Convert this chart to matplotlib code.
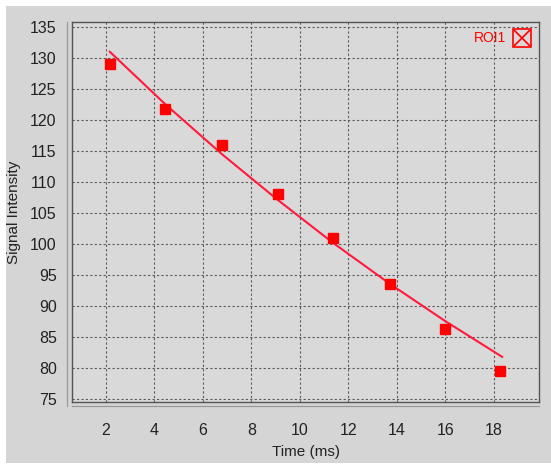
import matplotlib.pyplot as plt
from matplotlib.patches import Rectangle
from matplotlib.lines import Line2D

# measured signal (ROI1)
time_ms = [2.16, 4.43, 6.78, 9.09, 11.36, 13.70, 15.98, 18.25]
signal = [129.0, 121.8, 116.0, 108.1, 101.0, 93.5, 86.3, 79.5]

# fitted decay curve
fit_time = [2.16, 4.43, 6.78, 9.09, 11.36, 13.70, 15.98, 18.34]
fit_signal = [131.0, 122.6, 114.5, 107.1, 100.2, 93.6, 87.6, 81.8]

x_ticks = [2, 4, 6, 8, 10, 12, 14, 16, 18]
y_ticks = [75, 80, 85, 90, 95, 100, 105, 110, 115, 120, 125, 130, 135]

plt.rcParams['font.family'] = ['Liberation Sans', 'DejaVu Sans']

W, H = 551, 466
fig = plt.figure(figsize=(W / 100, H / 100), dpi=100, facecolor='white')
# grey panel like the Swing window
fig.patches.append(Rectangle((6 / W, 3 / H), 1 - 6 / W, 1 - 9 / H,
                             transform=fig.transFigure, facecolor='#d5d5d5',
                             edgecolor='none', zorder=-5))

ax = fig.add_axes([72 / W, 1 - 402 / H, (539 - 72) / W, (402 - 22) / H])
ax.set_zorder(2)
ax.set_facecolor('#d9d9d9')

ax.plot(fit_time, fit_signal, color='#ff1a3c', linewidth=1.5, zorder=3)
ax.plot(time_ms, signal, linestyle='none', marker='s', markersize=7,
        color='#ff0000', zorder=4)

ax.set_xlim(0.6, 19.86)
ax.set_ylim(74.52, 135.8)
ax.set_xticks(x_ticks)
ax.set_yticks(y_ticks)
ax.tick_params(axis='both', length=0, labelsize=11.5, colors='#222222')
ax.tick_params(axis='y', pad=11)
ax.tick_params(axis='x', pad=15)

ax.grid(True, color='#5a5a5a', linestyle=(0, (2, 2)), linewidth=0.8)
ax.set_axisbelow(True)

for side in ['left', 'bottom', 'right', 'top']:
    ax.spines[side].set_color('#555555')
    ax.spines[side].set_linewidth(1.0)

# faint offset axis lines (JFreeChart style)
fig.add_artist(Line2D([67 / W, 67 / W], [1 - 406 / H, 1 - 22 / H],
                      transform=fig.transFigure, color='#9a9a9a', linewidth=0.9))
fig.add_artist(Line2D([72 / W, 539 / W], [1 - 406 / H, 1 - 406 / H],
                      transform=fig.transFigure, color='#9a9a9a', linewidth=0.9))

ax.set_xlabel('Time (ms)', fontsize=11, color='#222222')
ax.set_ylabel('Signal Intensity', fontsize=11, color='#222222')
ax.xaxis.set_label_coords(0.5, -0.113)
ax.yaxis.set_label_coords(-0.109, 0.5)

# legend entry in the top right corner
ax.text(0.929, 0.957, 'ROI1', transform=ax.transAxes, color='#ff0000',
        fontsize=10, ha='right', va='center')
ax.plot([0.964], [0.959], transform=ax.transAxes, marker='s', markersize=13,
        markerfacecolor='none', markeredgecolor='#ff0000', markeredgewidth=1.2,
        clip_on=False, zorder=5)
ax.plot([0.964], [0.959], transform=ax.transAxes, marker='x', markersize=12,
        color='#ff0000', markeredgewidth=1.2, clip_on=False, zorder=5)

fig.savefig('out.png', dpi=100, facecolor=fig.get_facecolor())
